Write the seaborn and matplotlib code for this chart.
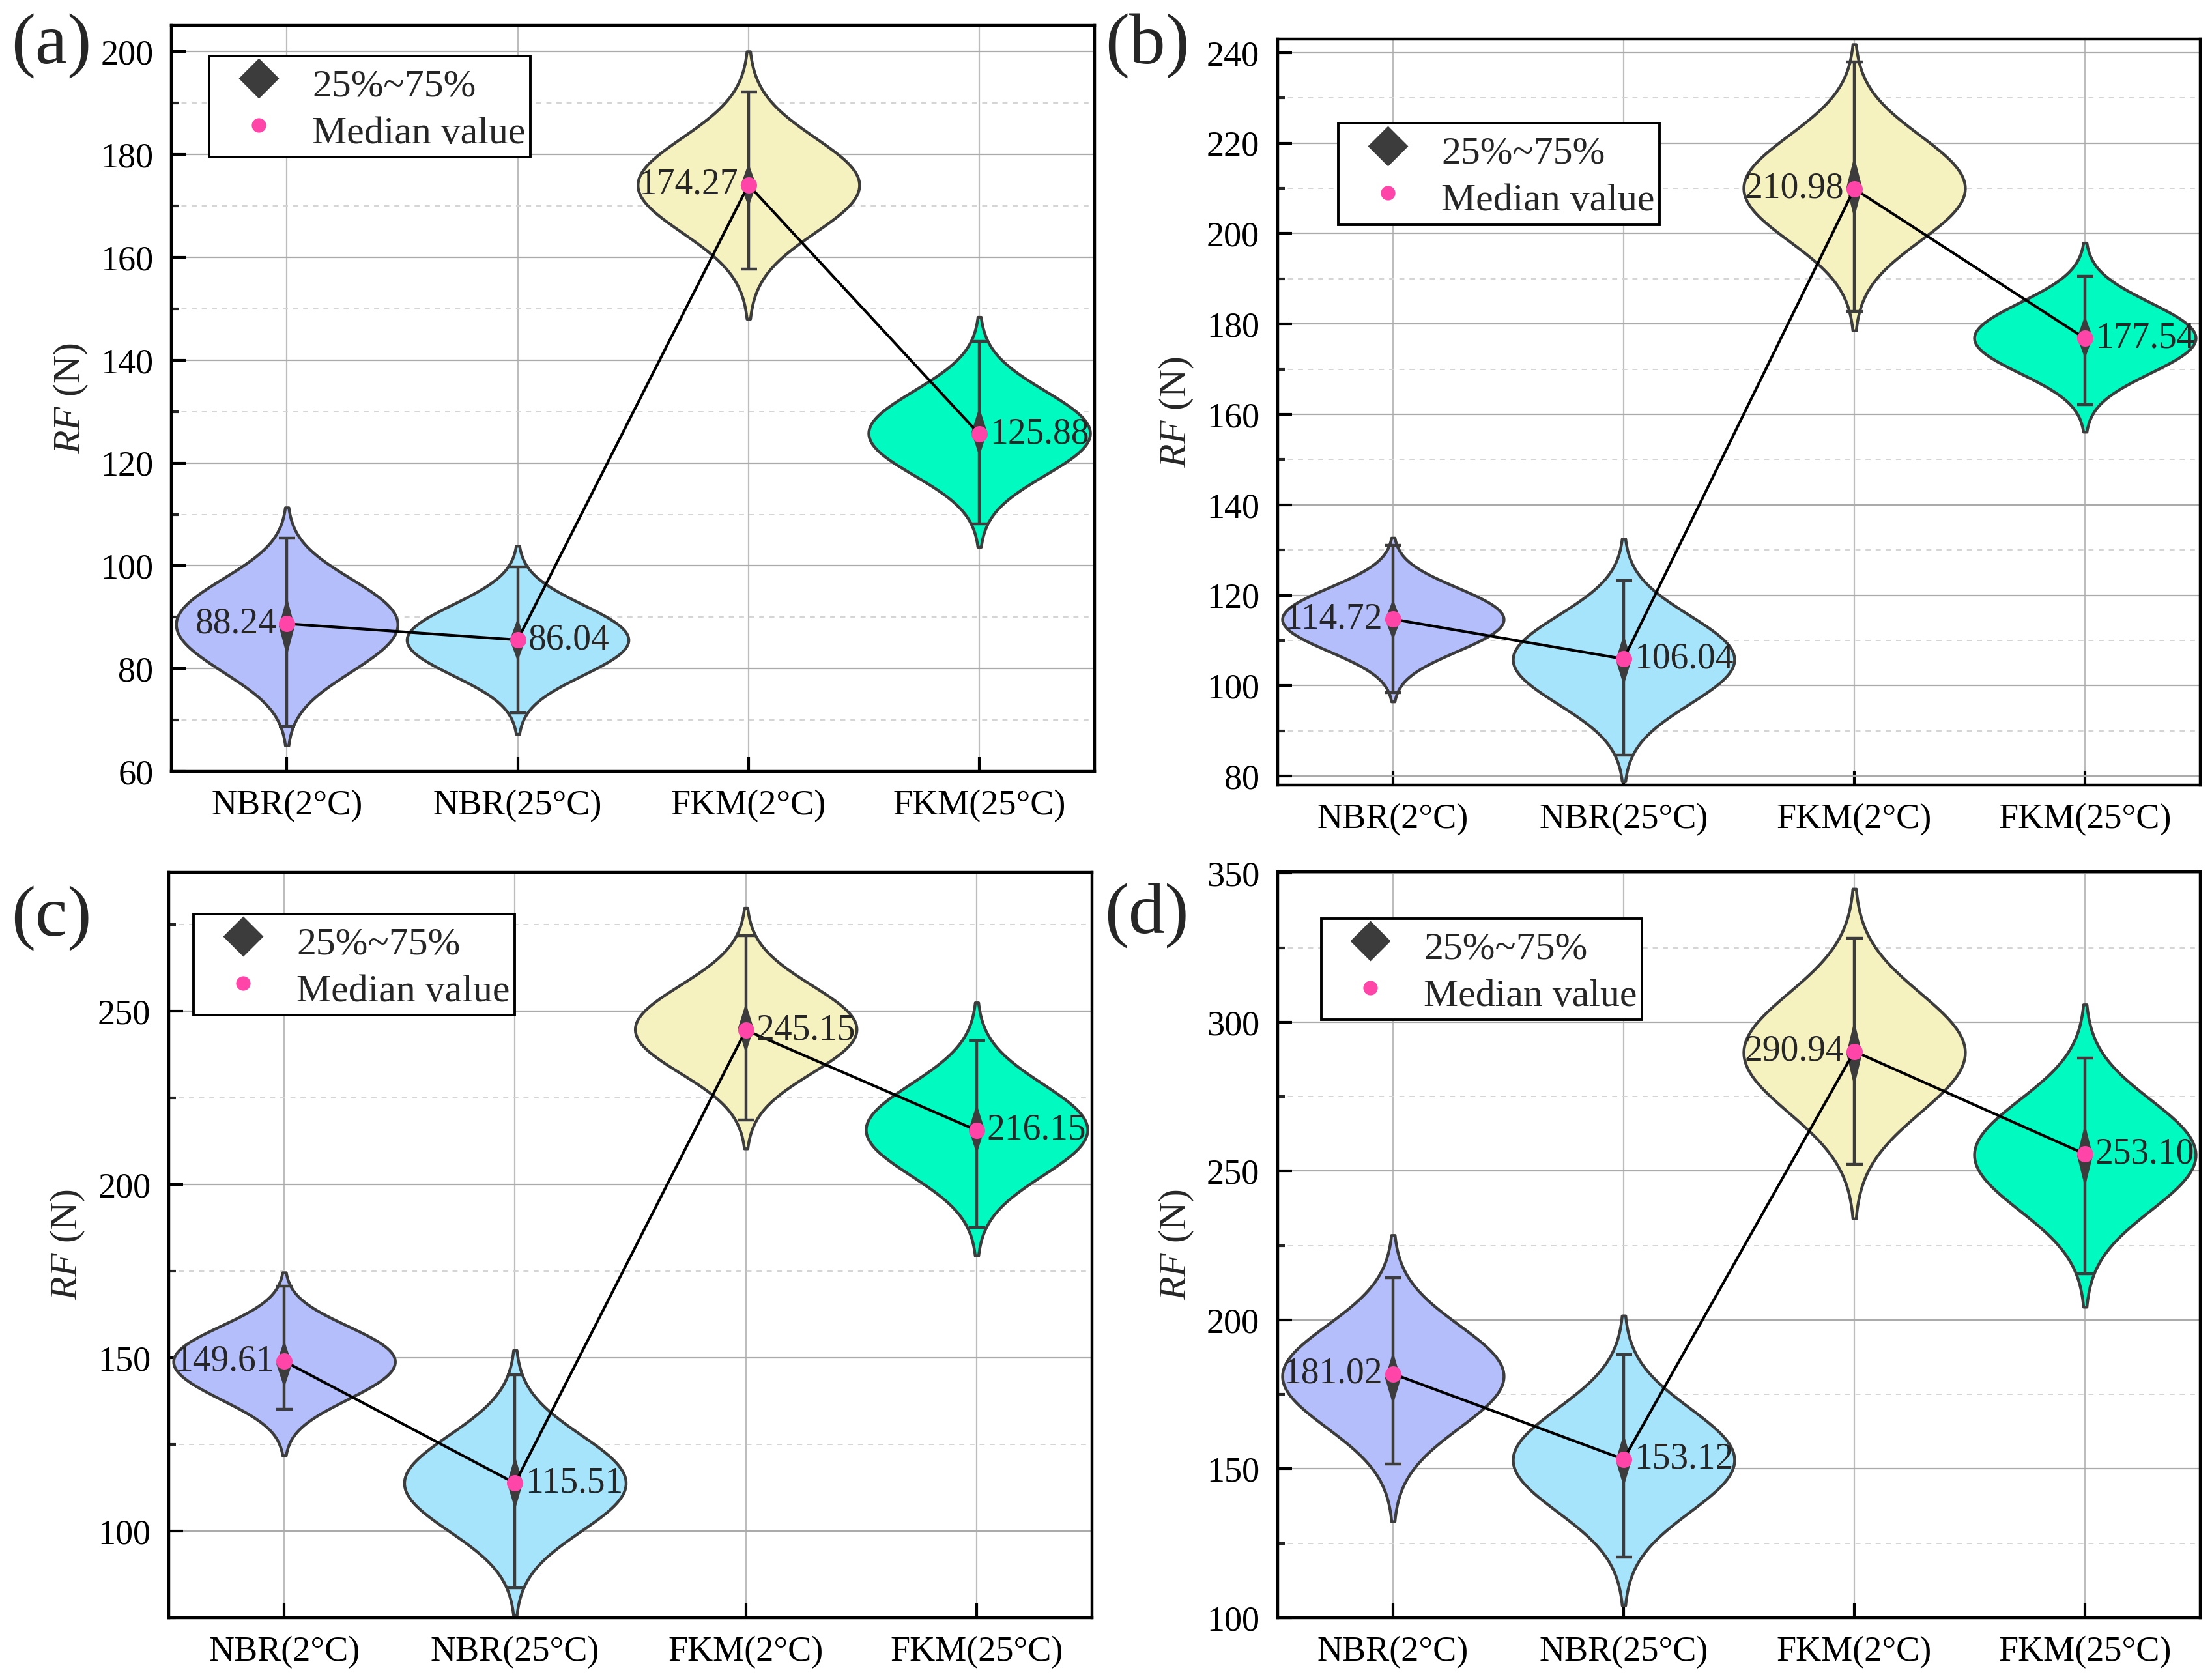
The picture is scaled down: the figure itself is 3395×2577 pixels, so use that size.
import numpy as np
import matplotlib
matplotlib.use('Agg')
import matplotlib.pyplot as plt
from matplotlib.lines import Line2D
from matplotlib.ticker import MultipleLocator
import seaborn as sns

# categories and fill colours
groups = ['NBR(2°C)', 'NBR(25°C)', 'FKM(2°C)', 'FKM(25°C)']
colors = ['#b4befb', '#a6e4fc', '#f6f2c0', '#00fac0']

# panel (a) values
labels_a = ['88.24', '86.04', '174.27', '125.88']
median_a = [88.75, 85.6, 174.1, 125.6]
q1_a = [82.4, 81.4, 169.8, 121.3]
q3_a = [94.0, 89.8, 178.3, 130.8]
lo_a = [68.8, 71.4, 157.7, 108.2]
hi_a = [105.4, 99.8, 192.2, 143.7]
tiplo_a = [65.1, 67.4, 148.2, 103.5]
tiphi_a = [111.4, 104.0, 200.2, 148.2]

# panel (b)
labels_b = ['114.72', '106.04', '210.98', '177.54']
median_b = [114.7, 105.9, 209.9, 176.8]
q1_b = [110.1, 100.0, 203.3, 172.3]
q3_b = [119.1, 111.3, 217.1, 181.8]
lo_b = [98.5, 84.7, 182.8, 162.1]
hi_b = [131.0, 123.3, 238.0, 190.5]
tiplo_b = [96.4, 79.1, 176.7, 156.1]
tiphi_b = [132.6, 132.8, 240.0, 197.9]

# panel (c)
labels_c = ['149.61', '115.51', '245.15', '216.15']
median_c = [149.0, 113.8, 244.5, 215.6]
q1_c = [141.3, 106.1, 237.8, 208.7]
q3_c = [155.1, 121.7, 252.3, 223.2]
lo_c = [135.2, 83.6, 218.6, 187.5]
hi_c = [170.7, 145.1, 271.7, 241.6]
tiplo_c = [123.7, 80.1, 209.4, 178.8]
tiphi_c = [176.5, 156.6, 278.8, 251.8]

# panel (d)
labels_d = ['181.02', '153.12', '290.94', '253.10']
median_d = [181.9, 153.2, 290.2, 255.7]
q1_d = [171.5, 143.9, 278.3, 244.5]
q3_d = [189.3, 161.7, 300.5, 265.8]
lo_d = [151.6, 120.3, 252.3, 215.5]
hi_d = [214.2, 188.4, 328.1, 287.9]
tiplo_d = [133.3, 104.8, 234.3, 204.4]
tiphi_d = [229.4, 202.1, 345.0, 305.9]

panels = [
    dict(letter='(a)', labels=labels_a, median=median_a, q1=q1_a, q3=q3_a, lo=lo_a, hi=hi_a,
         tiplo=tiplo_a, tiphi=tiphi_a, ylim=(60, 205.1), major=20,
         rect=[0.0775, 0.5405, 0.4174, 0.4443], leg=(0.041, 0.959),
         side=['left', 'right', 'left', 'right'], pos=(0.0233, 0.9724)),
    dict(letter='(b)', labels=labels_b, median=median_b, q1=q1_b, q3=q3_b, lo=lo_b, hi=hi_b,
         tiplo=tiplo_b, tiphi=tiphi_b, ylim=(78, 243), major=20,
         rect=[0.5776, 0.5324, 0.4171, 0.4443], leg=(0.066, 0.887),
         side=['left', 'right', 'left', 'right'], pos=(0.5187, 0.9724)),
    dict(letter='(c)', labels=labels_c, median=median_c, q1=q1_c, q3=q3_c, lo=lo_c, hi=hi_c,
         tiplo=tiplo_c, tiphi=tiphi_c, ylim=(75, 290), major=50,
         rect=[0.0763, 0.0365, 0.4174, 0.4439], leg=(0.027, 0.944),
         side=['left', 'right', 'right', 'right'], pos=(0.0233, 0.4529)),
    dict(letter='(d)', labels=labels_d, median=median_d, q1=q1_d, q3=q3_d, lo=lo_d, hi=hi_d,
         tiplo=tiplo_d, tiphi=tiphi_d, ylim=(100, 350.5), major=50,
         rect=[0.5776, 0.0365, 0.4171, 0.4443], leg=(0.047, 0.937),
         side=['left', 'right', 'left', 'right'], pos=(0.5184, 0.4544)),
]

sns.set_theme(style='white')
plt.rcParams['font.family'] = ['Liberation Serif', 'DejaVu Serif']
plt.rcParams['mathtext.fontset'] = 'custom'
plt.rcParams['mathtext.rm'] = 'Liberation Serif'
plt.rcParams['mathtext.it'] = 'Liberation Serif:italic'

EDGE = '#3c3c3c'
PINK = '#ff45a8'
CUT = 2.6

fig = plt.figure(figsize=(3395 / 200, 2577 / 200), dpi=200)

for p in panels:
    ax = fig.add_axes(p['rect'])
    x = np.arange(len(groups))
    med = np.array(p['median'])

    # violins: one call per group so each gets its own bandwidth
    for i, g in enumerate(groups):
        samples = [p['q1'][i], p['median'][i], p['q3'][i]]
        bw = (p['tiphi'][i] - p['q3'][i] + p['q1'][i] - p['tiplo'][i]) / (2 * CUT)
        sns.violinplot(x=[g] * 3, y=samples, order=groups, color=colors[i], saturation=1,
                       inner=None, cut=CUT, bw_method=bw / np.std(samples, ddof=1),
                       density_norm='width', width=0.96, linecolor=EDGE, linewidth=1.6, ax=ax)

    # whiskers with caps
    ax.errorbar(x, med, yerr=[med - np.array(p['lo']), np.array(p['hi']) - med], fmt='none',
                ecolor=EDGE, elinewidth=1.6, capsize=4.5, capthick=1.6, zorder=3)

    # 25%~75% diamonds
    hw = 0.034
    for i in range(len(groups)):
        q1, q3 = p['q1'][i], p['q3'][i]
        mid = (q1 + q3) / 2
        ax.fill([i, i + hw, i, i - hw], [q3, mid, q1, mid], color=EDGE, lw=0, zorder=4)

    # median line and dots
    ax.plot(x, med, color='black', lw=1.5, zorder=5)
    ax.plot(x, med, 'o', color=PINK, ms=9, mew=0, zorder=6)

    for i, lab in enumerate(p['labels']):
        if p['side'][i] == 'left':
            ax.text(i - 0.045, med[i], lab, ha='right', va='center', fontsize=20, zorder=7)
        else:
            ax.text(i + 0.045, med[i], lab, ha='left', va='center', fontsize=20, zorder=7)

    ax.set_xlim(-0.5, 3.5)
    ax.set_ylim(*p['ylim'])
    ax.yaxis.set_major_locator(MultipleLocator(p['major']))
    ax.yaxis.set_minor_locator(MultipleLocator(p['major'] / 2))
    ax.grid(True, which='major', axis='y', color='#ababab', lw=0.8)
    ax.grid(True, which='major', axis='x', color='#bdbdbd', lw=0.8)
    ax.grid(True, which='minor', axis='y', color='#d4d4d4', lw=0.7, ls=(0, (4, 4)))
    ax.set_axisbelow(True)
    ax.tick_params(axis='both', which='major', direction='in', length=8, width=1.5,
                   labelsize=19.5, pad=10, top=False, right=False, bottom=True, left=True,
                   colors='black')
    ax.tick_params(axis='y', which='minor', direction='in', length=4, width=1.5, left=True)
    for s in ax.spines.values():
        s.set_linewidth(1.6)
        s.set_color('black')
    ax.set_xlabel('')
    ax.set_ylabel(r'$\mathit{RF}$ (N)', fontsize=21.5, labelpad=6)

    handles = [Line2D([], [], marker='D', ls='none', color=EDGE, ms=15),
               Line2D([], [], marker='o', ls='none', color=PINK, ms=8, mew=0)]
    leg = ax.legend(handles, ['25%~75%', 'Median value'], loc='upper left',
                    bbox_to_anchor=p['leg'], borderaxespad=0, fontsize=21.5, frameon=True,
                    fancybox=False, edgecolor='black', framealpha=1, borderpad=0.12,
                    handlelength=2.3, handleheight=1.4, handletextpad=0.22, labelspacing=0.05)
    leg.get_frame().set_linewidth(1.4)

    fig.text(p['pos'][0], p['pos'][1], p['letter'], fontsize=40, ha='center', va='center')

fig.savefig('out.png', dpi=200)
